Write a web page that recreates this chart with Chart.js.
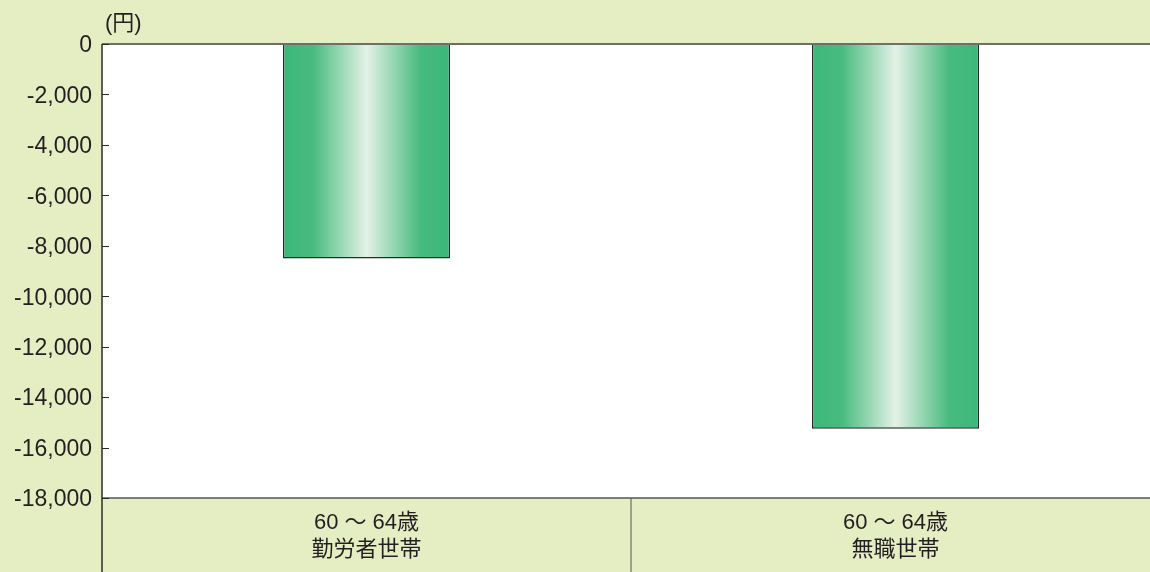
<!DOCTYPE html>
<html>
<head>
<meta charset="utf-8">
<script src="https://cdn.jsdelivr.net/npm/chart.js@4"></script>
<style>
  html, body { margin: 0; padding: 0; overflow: hidden; background: #e5edc3; }
  #wrap { width: 1160px; height: 572px; }
</style>
</head>
<body>
<div id="wrap"><canvas id="gap-chart" width="1160" height="572"></canvas></div>
<script>
// categories (two-line labels) and the household balance values (yen)
const categories = [['60 ～ 64歳', '勤労者世帯'], ['60 ～ 64歳', '無職世帯']];
const values = [-8500, -15250];
const yMin = -18000;
const yMax = 0;
const yStep = 2000;
const unitLabel = '(円)';

const FONT = '"Liberation Sans", "Noto Sans CJK JP", sans-serif';
const TEXT = '#231f20';
const BG = '#e5edc3';

// fill in the page colour, the white plot box, frame lines and inner ticks
const framePlugin = {
  id: 'frame',
  beforeDraw(chart) {
    const { ctx, chartArea: a, width, height } = chart;
    ctx.save();
    ctx.fillStyle = BG;
    ctx.fillRect(0, 0, width, height);
    ctx.fillStyle = '#ffffff';
    ctx.fillRect(a.left, a.top, a.right - a.left, a.bottom - a.top);
    ctx.restore();
  },
  afterDraw(chart) {
    const { ctx, chartArea: a, height } = chart;
    const ys = chart.scales.y;
    const xs = chart.scales.x;
    ctx.save();
    // top line
    ctx.strokeStyle = '#6e6e6e';
    ctx.lineWidth = 2;
    ctx.beginPath();
    ctx.moveTo(a.left, a.top);
    ctx.lineTo(a.right, a.top);
    ctx.stroke();
    // bottom line of plot
    ctx.strokeStyle = '#555';
    ctx.lineWidth = 1.5;
    ctx.beginPath();
    ctx.moveTo(a.left, a.bottom);
    ctx.lineTo(a.right, a.bottom);
    ctx.stroke();
    // left axis line
    ctx.strokeStyle = '#2b2b2b';
    ctx.lineWidth = 1.5;
    ctx.beginPath();
    ctx.moveTo(a.left, a.top);
    ctx.lineTo(a.left, height);
    ctx.stroke();
    // separator between the category cells
    const sep = (xs.getPixelForValue(0) + xs.getPixelForValue(1)) / 2;
    ctx.strokeStyle = '#555';
    ctx.lineWidth = 1;
    ctx.beginPath();
    ctx.moveTo(sep, a.bottom);
    ctx.lineTo(sep, height);
    ctx.stroke();
    // inner tick marks
    ctx.strokeStyle = '#2b2b2b';
    ctx.lineWidth = 1;
    ys.ticks.forEach((t) => {
      const y = Math.round(ys.getPixelForValue(t.value)) + 0.5;
      ctx.beginPath();
      ctx.moveTo(a.left, y);
      ctx.lineTo(a.left + 7, y);
      ctx.stroke();
    });
    // unit
    ctx.fillStyle = TEXT;
    ctx.font = '22px ' + FONT;
    ctx.textAlign = 'left';
    ctx.textBaseline = 'middle';
    ctx.fillText(unitLabel, a.left + 3, 24);
    ctx.restore();
  },
};

// horizontal metallic gradient for each bar
function barGradient(context) {
  const chart = context.chart;
  const xs = chart.scales.x;
  if (!chart.chartArea || !xs) return '#3cb878';
  const cx = xs.getPixelForValue(context.dataIndex);
  const w = (xs.width / categories.length) * 0.316;
  const g = chart.ctx.createLinearGradient(cx - w / 2, 0, cx + w / 2, 0);
  g.addColorStop(0, '#3bb878');
  g.addColorStop(0.18, '#48bb7f');
  g.addColorStop(0.5, '#e3f2e6');
  g.addColorStop(0.82, '#48bb7f');
  g.addColorStop(1, '#3bb878');
  return g;
}

const ctx = document.getElementById('gap-chart').getContext('2d');
new Chart(ctx, {
  type: 'bar',
  data: {
    labels: categories,
    datasets: [
      {
        data: values,
        backgroundColor: barGradient,
        borderColor: '#2a2a2a',
        borderWidth: 1.5,
        borderSkipped: 'start',
        barPercentage: 0.316,
        categoryPercentage: 1,
      },
    ],
  },
  options: {
    responsive: false,
    animation: false,
    layout: { padding: { top: 44, right: 0, bottom: 0, left: 0 } },
    plugins: {
      legend: { display: false },
      tooltip: { enabled: false },
    },
    scales: {
      y: {
        min: yMin,
        max: yMax,
        border: { display: false },
        grid: { display: false, drawTicks: false },
        ticks: {
          stepSize: yStep,
          padding: 10,
          labelOffset: 2,
          color: TEXT,
          font: { family: FONT, size: 23 },
          callback: (v) => v.toLocaleString('en-US'),
        },
        afterFit: (scale) => { scale.width = 102; },
      },
      x: {
        border: { display: false },
        grid: { display: false, drawTicks: false },
        ticks: {
          padding: 11,
          color: TEXT,
          maxRotation: 0,
          minRotation: 0,
          autoSkip: false,
          font: { family: FONT, size: 22, lineHeight: 1.25 },
        },
        afterFit: (scale) => { scale.height = 74; },
      },
    },
  },
  plugins: [framePlugin],
});
</script>
</body>
</html>
